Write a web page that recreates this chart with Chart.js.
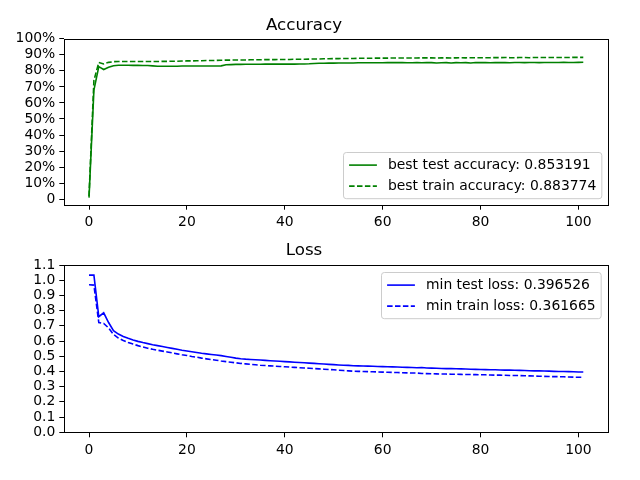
<!DOCTYPE html>
<html>
<head>
<meta charset="utf-8">
<script src="https://cdn.jsdelivr.net/npm/chart.js"></script>
<style>
  html, body { margin: 0; padding: 0; background: #fff; }
  #wrap { position: relative; width: 640px; height: 480px; }
  canvas { position: absolute; left: 0; }
</style>
</head>
<body>
<div id="wrap">
  <canvas id="accCanvas" width="640" height="240" style="top:0"></canvas>
  <canvas id="lossCanvas" width="640" height="240" style="top:240px"></canvas>
</div>
<script>
// values, one per epoch (0..101)
const testAcc = [
  0.010, 0.680, 0.826, 0.808, 0.822, 0.832, 0.835, 0.835, 0.835, 0.834,
  0.834, 0.833, 0.833, 0.831, 0.829, 0.829, 0.829, 0.829, 0.829, 0.830,
  0.830, 0.830, 0.830, 0.830, 0.830, 0.830, 0.830, 0.831, 0.838, 0.839,
  0.840, 0.840, 0.841, 0.841, 0.841, 0.841, 0.842, 0.842, 0.842, 0.842,
  0.842, 0.842, 0.842, 0.843, 0.843, 0.844, 0.846, 0.847, 0.847, 0.848,
  0.848, 0.849, 0.849, 0.849, 0.849, 0.850, 0.850, 0.850, 0.850, 0.850,
  0.850, 0.851, 0.851, 0.851, 0.851, 0.850, 0.850, 0.851, 0.850, 0.851,
  0.851, 0.849, 0.850, 0.851, 0.849, 0.851, 0.850, 0.851, 0.849, 0.852,
  0.851, 0.851, 0.850, 0.851, 0.851, 0.852, 0.850, 0.852, 0.852, 0.851,
  0.852, 0.852, 0.851, 0.852, 0.852, 0.852, 0.852, 0.853, 0.852, 0.852,
  0.853, 0.8532
];
const trainAcc = [
  0.020, 0.740, 0.852, 0.843, 0.853, 0.857, 0.858, 0.858, 0.858, 0.858,
  0.858, 0.858, 0.858, 0.858, 0.858, 0.859, 0.859, 0.860, 0.860, 0.861,
  0.862, 0.862, 0.863, 0.863, 0.864, 0.864, 0.865, 0.866, 0.867, 0.867,
  0.868, 0.868, 0.868, 0.869, 0.869, 0.869, 0.870, 0.870, 0.870, 0.871,
  0.871, 0.871, 0.872, 0.872, 0.872, 0.873, 0.874, 0.874, 0.875, 0.875,
  0.876, 0.876, 0.877, 0.877, 0.877, 0.878, 0.878, 0.878, 0.879, 0.879,
  0.879, 0.879, 0.880, 0.880, 0.880, 0.880, 0.880, 0.880, 0.881, 0.881,
  0.881, 0.880, 0.881, 0.881, 0.880, 0.881, 0.882, 0.881, 0.882, 0.882,
  0.882, 0.882, 0.882, 0.883, 0.882, 0.883, 0.882, 0.882, 0.883, 0.883,
  0.882, 0.883, 0.883, 0.883, 0.883, 0.883, 0.883, 0.883, 0.883, 0.884,
  0.884, 0.8838
];
const testLoss = [
  1.034, 1.034, 0.760, 0.786, 0.722, 0.668, 0.646, 0.630, 0.618, 0.607,
  0.598, 0.590, 0.583, 0.576, 0.570, 0.564, 0.558, 0.552, 0.546, 0.540,
  0.535, 0.530, 0.525, 0.520, 0.516, 0.512, 0.508, 0.504, 0.499, 0.494,
  0.488, 0.484, 0.481, 0.479, 0.477, 0.475, 0.473, 0.471, 0.469, 0.467,
  0.465, 0.463, 0.461, 0.459, 0.457, 0.455, 0.453, 0.451, 0.449, 0.447,
  0.445, 0.443, 0.441, 0.440, 0.438, 0.437, 0.436, 0.435, 0.434, 0.433,
  0.432, 0.431, 0.430, 0.429, 0.428, 0.427, 0.426, 0.425, 0.426, 0.423,
  0.422, 0.421, 0.420, 0.419, 0.419, 0.418, 0.417, 0.416, 0.415, 0.414,
  0.413, 0.412, 0.411, 0.411, 0.410, 0.409, 0.409, 0.408, 0.407, 0.406,
  0.405, 0.404, 0.404, 0.403, 0.402, 0.401, 0.400, 0.400, 0.399, 0.398,
  0.397, 0.3965
];
const trainLoss = [
  0.970, 0.968, 0.722, 0.716, 0.686, 0.644, 0.620, 0.604, 0.591, 0.580,
  0.570, 0.561, 0.553, 0.546, 0.540, 0.534, 0.528, 0.522, 0.516, 0.510,
  0.505, 0.499, 0.494, 0.488, 0.483, 0.478, 0.474, 0.469, 0.465, 0.461,
  0.457, 0.453, 0.450, 0.447, 0.444, 0.441, 0.439, 0.437, 0.435, 0.433,
  0.431, 0.429, 0.427, 0.425, 0.423, 0.421, 0.419, 0.417, 0.415, 0.413,
  0.411, 0.408, 0.406, 0.404, 0.402, 0.401, 0.400, 0.399, 0.398, 0.397,
  0.396, 0.395, 0.394, 0.393, 0.392, 0.391, 0.390, 0.390, 0.387, 0.386,
  0.385, 0.384, 0.383, 0.383, 0.382, 0.382, 0.381, 0.380, 0.380, 0.379,
  0.378, 0.378, 0.377, 0.376, 0.376, 0.375, 0.374, 0.374, 0.373, 0.372,
  0.371, 0.370, 0.369, 0.368, 0.367, 0.366, 0.366, 0.365, 0.364, 0.363,
  0.362, 0.3617
];

const xTicks = [0, 20, 40, 60, 80, 100];
const accTicks = [0, 0.1, 0.2, 0.3, 0.4, 0.5, 0.6, 0.7, 0.8, 0.9, 1.0];
const accTickLabels = ["0", "10%", "20%", "30%", "40%", "50%", "60%", "70%", "80%", "90%", "100%"];
const lossTicks = [0, 0.1, 0.2, 0.3, 0.4, 0.5, 0.6, 0.7, 0.8, 0.9, 1.0, 1.1];
const lossTickLabels = ["0.0", "0.1", "0.2", "0.3", "0.4", "0.5", "0.6", "0.7", "0.8", "0.9", "1.0", "1.1"];

const accLabels = ["best test accuracy: 0.853191", "best train accuracy: 0.883774"];
const lossLabels = ["min test loss: 0.396526", "min train loss: 0.361665"];

const FONT = "'DejaVu Sans', 'Liberation Sans', sans-serif";
const DASH = [5.5, 2.4];

// black box round the plot area, like matplotlib's spines
const framePlugin = {
  id: "frame",
  afterDatasetsDraw(chart) {
    const { ctx, chartArea: a } = chart;
    ctx.save();
    ctx.strokeStyle = "#000";
    ctx.lineWidth = 1;
    ctx.strokeRect(Math.round(a.left) + 0.5, Math.round(a.top) + 0.5,
                   Math.round(a.width), Math.round(a.height));
    ctx.restore();
  }
};

// legend drawn inside the plot area (lower or upper right)
const boxLegend = {
  id: "boxLegend",
  afterDraw(chart, args, opts) {
    const { ctx, chartArea: a } = chart;
    const sets = chart.data.datasets;
    ctx.save();
    ctx.font = "13.9px " + FONT;
    const textW = Math.max(...sets.map(d => ctx.measureText(d.label).width));
    const pad = 5.6, handle = 27.8, gap = 11.1, rowH = 14, space = 7, margin = 6.9;
    const w = pad * 2 + handle + gap + textW;
    const h = pad * 2 + rowH * sets.length + space * (sets.length - 1);
    const x = Math.round(a.right - margin - w) + 0.5;
    const y = Math.round(opts.corner === "lower" ? a.bottom - margin - h : a.top + margin) + 0.5;
    ctx.fillStyle = "rgba(255,255,255,0.8)";
    ctx.strokeStyle = "#cccccc";
    ctx.lineWidth = 1;
    ctx.beginPath();
    ctx.roundRect(x, y, w, h, 2.8);
    ctx.fill();
    ctx.stroke();
    sets.forEach((d, i) => {
      const cy = y + pad + rowH / 2 + i * (rowH + space);
      ctx.strokeStyle = d.borderColor;
      ctx.lineWidth = d.borderWidth;
      ctx.setLineDash(d.borderDash || []);
      ctx.beginPath();
      ctx.moveTo(x + pad, cy);
      ctx.lineTo(x + pad + handle, cy);
      ctx.stroke();
      ctx.setLineDash([]);
      ctx.fillStyle = "#000";
      ctx.textBaseline = "middle";
      ctx.textAlign = "left";
      ctx.fillText(d.label, x + pad + handle + gap, cy);
    });
    ctx.restore();
  }
};

function line(label, values, color, dashed) {
  return {
    label: label,
    data: values.map((v, i) => ({ x: i, y: v })),
    borderColor: color,
    borderWidth: 1.6,
    borderDash: dashed ? DASH : [],
    pointRadius: 0,
    tension: 0,
    fill: false
  };
}

function makeChart(id, cfg) {
  const tickFont = { family: FONT, size: 13.9 };
  return new Chart(document.getElementById(id), {
    type: "line",
    data: { datasets: cfg.datasets },
    options: {
      responsive: false,
      animation: false,
      devicePixelRatio: 1,
      layout: { padding: { left: 0, right: 32, top: 0, bottom: 0 } },
      plugins: {
        legend: { display: false },
        tooltip: { enabled: false },
        title: {
          display: true,
          text: cfg.title,
          color: "#000",
          font: { family: FONT, size: 16.7, weight: "normal", lineHeight: 1.2 },
          padding: cfg.titlePad
        },
        boxLegend: { corner: cfg.legendCorner }
      },
      scales: {
        x: {
          type: "linear",
          min: -5.05,
          max: 106.05,
          afterBuildTicks: s => { s.ticks = xTicks.map(v => ({ value: v })); },
          afterFit: s => { s.height = cfg.xHeight; },
          border: { display: false },
          grid: { drawOnChartArea: false, drawTicks: true, tickLength: 5, color: "#000", tickColor: "#000" },
          ticks: { color: "#000", font: tickFont, padding: 4.5, maxRotation: 0, autoSkip: false,
                   callback: v => String(v) }
        },
        y: {
          min: cfg.yMin,
          max: cfg.yMax,
          afterBuildTicks: s => { s.ticks = cfg.yTicks.map(v => ({ value: v })); },
          afterFit: s => { s.width = 64.3; },
          border: { display: false },
          grid: { drawOnChartArea: false, drawTicks: true, tickLength: 5, color: "#000", tickColor: "#000" },
          ticks: { color: "#000", font: tickFont, padding: 4, autoSkip: false,
                   callback: v => cfg.yTickLabels[cfg.yTicks.findIndex(t => Math.abs(t - v) < 1e-9)] }
        }
      }
    },
    plugins: [framePlugin, boxLegend]
  });
}

makeChart("accCanvas", {
  title: "Accuracy",
  titlePad: { top: 16, bottom: 2.7 },
  datasets: [
    line(accLabels[0], testAcc, "green", false),
    line(accLabels[1], trainAcc, "green", true)
  ],
  yMin: -0.034,
  yMax: 1.0,
  yTicks: accTicks,
  yTickLabels: accTickLabels,
  xHeight: 35.3,
  legendCorner: "lower"
});

makeChart("lossCanvas", {
  title: "Loss",
  titlePad: { top: 1, bottom: 4 },
  datasets: [
    line(lossLabels[0], testLoss, "blue", false),
    line(lossLabels[1], trainLoss, "blue", true)
  ],
  yMin: 0,
  yMax: 1.1,
  yTicks: lossTicks,
  yTickLabels: lossTickLabels,
  xHeight: 47.7,
  legendCorner: "upper"
});
</script>
</body>
</html>
